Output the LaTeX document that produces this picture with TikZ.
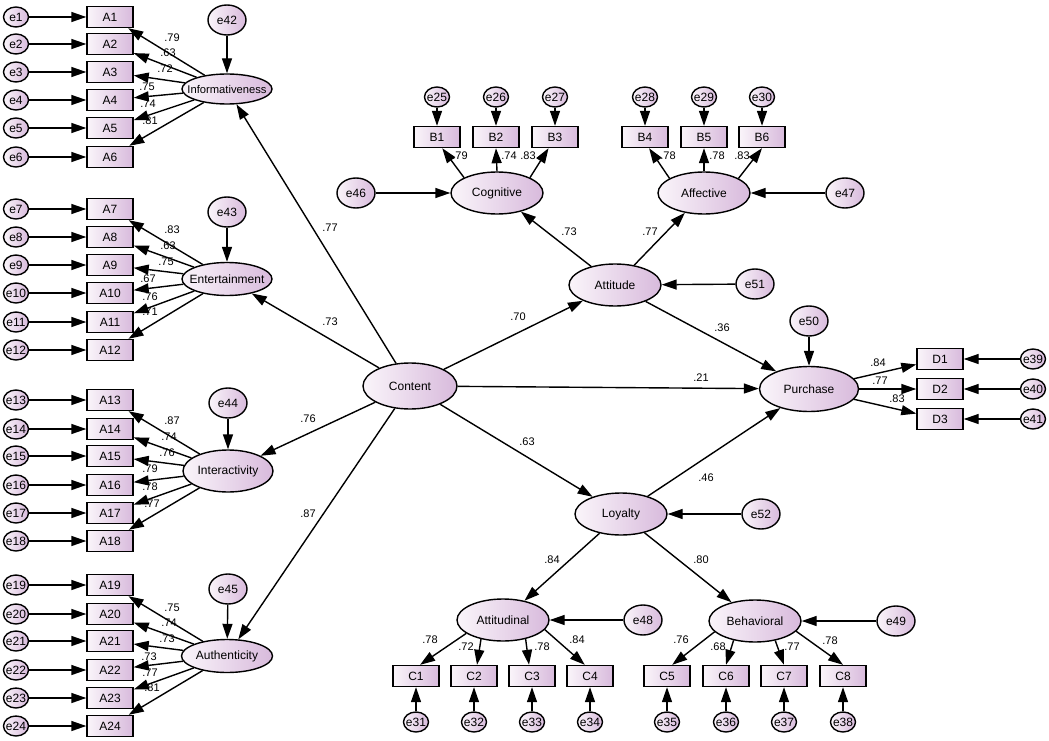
\documentclass[tikz,border=0pt]{standalone}
\usepackage{fontspec}
\setmainfont{Liberation Sans}
\usetikzlibrary{shapes.geometric,arrows.meta}

\definecolor{semlight}{RGB}{250,245,250}
\definecolor{semdark}{RGB}{216,186,220}

\tikzset{
  lat/.style={ellipse, draw, line width=1.4pt, left color=semlight, right color=semdark,
    minimum width=92pt, minimum height=42pt, inner xsep=-12pt, inner ysep=0pt,
    font=\fontsize{12}{14}\selectfont},
  obs/.style={rectangle, draw, line width=1.4pt, left color=semlight, right color=semdark,
    minimum width=46pt, minimum height=21pt, inner sep=0pt, font=\fontsize{12}{14}\selectfont},
  err/.style={ellipse, draw, line width=1.4pt, left color=semlight, right color=semdark,
    minimum width=25pt, minimum height=20pt, inner xsep=-3pt, inner ysep=0pt,
    font=\fontsize{12}{14}\selectfont},
  res/.style={err, minimum width=38pt, minimum height=30pt},
  arr/.style={-{Triangle[length=15pt,width=10pt]}, line width=1.4pt},
  coef/.style={inner sep=0pt, font=\fontsize{11}{13}\selectfont}
}

\begin{document}
\begin{tikzpicture}[x=1pt, y=-1pt]
  \useasboundingbox (0,0) rectangle (1049,741);

  % Latent variables
  \node[lat, minimum width=90pt, minimum height=30pt, font=\fontsize{11.2}{13}\selectfont] (inf) at (227,89) {Informativeness};
  \node[lat, minimum width=90pt, minimum height=33pt] (ent) at (227,279) {Entertainment};
  \node[lat, minimum width=90pt, minimum height=42pt] (int) at (228,471) {Interactivity};
  \node[lat, minimum width=91pt, minimum height=33pt] (aut) at (227,656) {Authenticity};
  \node[lat, minimum width=94pt, minimum height=46pt] (con) at (410,386) {Content};
  \node[lat] (att) at (615,285) {Attitude};
  \node[lat] (cog) at (497,193) {Cognitive};
  \node[lat] (aff) at (704,193) {Affective};
  \node[lat] (loy) at (621,514) {Loyalty};
  \node[lat, minimum width=99pt, minimum height=45pt] (pur) at (809,389) {Purchase};
  \node[lat] (atd) at (503,620) {Attitudinal};
  \node[lat] (beh) at (755,621) {Behavioral};

  % Residuals
  \node[res] (e42) at (227,20) {e42};
  \node[res] (e43) at (227,212) {e43};
  \node[res] (e44) at (228,403) {e44};
  \node[res] (e45) at (228,589) {e45};
  \node[res] (e46) at (356,193) {e46};
  \node[res] (e47) at (845,193) {e47};
  \node[res] (e51) at (755,284) {e51};
  \node[res] (e50) at (809,321) {e50};
  \node[res] (e52) at (761,514) {e52};
  \node[res] (e48) at (643,620) {e48};
  \node[res] (e49) at (896,621) {e49};

  \draw[arr] (e42) -- (inf);
  \draw[arr] (e43) -- (ent);
  \draw[arr] (e44) -- (int);
  \draw[arr] (e45) -- (aut);
  \draw[arr] (e46) -- (cog);
  \draw[arr] (e47) -- (aff);
  \draw[arr] (e51) -- (att);
  \draw[arr] (e50) -- (pur);
  \draw[arr] (e52) -- (loy);
  \draw[arr] (e48) -- (atd);
  \draw[arr] (e49) -- (beh);

  % Structural paths
  \draw[arr] (con) -- (inf);
  \draw[arr] (con) -- (ent);
  \draw[arr] (con) -- (int);
  \draw[arr] (con) -- (aut);
  \draw[arr] (con) -- (att);
  \draw[arr] (con) -- (loy);
  \draw[arr] (con) -- (pur);
  \draw[arr] (att) -- (cog);
  \draw[arr] (att) -- (aff);
  \draw[arr] (att) -- (pur);
  \draw[arr] (loy) -- (pur);
  \draw[arr] (loy) -- (atd);
  \draw[arr] (loy) -- (beh);

  \node[coef] (p1) at (330,228) {.77};
  \node[coef] (p2) at (330,322) {.73};
  \node[coef] (p3) at (308,419) {.76};
  \node[coef] (p4) at (308,514) {.87};
  \node[coef] (p5) at (518,317) {.70};
  \node[coef] (p6) at (527,442) {.63};
  \node[coef] (p7) at (701,378) {.21};
  \node[coef] (p8) at (722,328) {.36};
  \node[coef] (p9) at (706,478) {.46};
  \node[coef] (p10) at (569,232) {.73};
  \node[coef] (p11) at (650,232) {.77};
  \node[coef] (p12) at (552,560) {.84};
  \node[coef] (p13) at (701,560) {.80};

  % Indicators A1-A24
  \foreach \i/\y in {1/17, 2/44, 3/72, 4/100, 5/128, 6/157,
                     7/209, 8/237, 9/265, 10/293, 11/322, 12/350,
                     13/400, 14/429, 15/456, 16/485, 17/513, 18/541,
                     19/585, 20/614, 21/641, 22/670, 23/698, 24/726}{
    \node[err] (e\i) at (16,\y) {e\i};
    \node[obs] (A\i) at (110,\y) {A\i};
    \draw[arr] (e\i) -- (A\i);
  }

  % Loadings A
  \foreach \f/\i/\v/\lx/\ly in {inf/1/.79/172/38, inf/2/.63/168/53, inf/3/.72/165/69,
      inf/4/.75/147/87, inf/5/.74/148/104, inf/6/.81/150/121,
      ent/7/.83/172/230, ent/8/.63/168/246, ent/9/.75/166/262,
      ent/10/.67/148/279, ent/11/.76/150/297, ent/12/.71/150/312,
      int/13/.87/172/421, int/14/.74/169/437, int/15/.76/167/453,
      int/16/.79/150/469, int/17/.78/150/487, int/18/.77/152/504,
      aut/19/.75/172/608, aut/20/.74/169/623, aut/21/.73/167/639,
      aut/22/.73/149/657, aut/23/.77/150/673, aut/24/.81/152/688}{
    \draw[arr] (\f) -- (A\i);
    \node[coef] (w\i) at (\lx,\ly) {\v};
  }

  % Indicators B1-B6
  \foreach \f/\i/\n/\x/\v/\lx/\sa/\ea in {cog/1/25/437/.79/460/155/295, cog/2/26/496/.74/509/90/270,
      cog/3/27/555/.83/528/25/240, aff/4/28/645/.78/668/157/290,
      aff/5/29/704/.78/717/90/270, aff/6/30/762/.83/742/23/270}{
    \node[err] (e\n) at (\x,97) {e\n};
    \node[obs] (B\i) at (\x,137) {B\i};
    \draw[arr] (e\n) -- (B\i);
    \draw[arr] (\f.\sa) -- (B\i.\ea);
    \node[coef] (wB\i) at (\lx,156) {\v};
  }

  % Indicators C1-C8
  \foreach \f/\i/\n/\x/\v/\lx/\ly/\sa/\ea in {atd/1/31/416/.78/430/640/200/70, atd/2/32/474/.72/466/647/221/75,
      atd/3/33/532/.78/542/647/320/105, atd/4/34/590/.84/577/640/347/115,
      beh/5/35/667/.76/681/640/195/65, beh/6/36/726/.68/718/647/222/90,
      beh/7/37/784/.77/792/647/316/90, beh/8/38/843/.78/830/641/346/90}{
    \node[obs] (C\i) at (\x,676) {C\i};
    \node[err] (e\n) at (\x,722) {e\n};
    \draw[arr] (e\n) -- (C\i);
    \draw[arr] (\f.\sa) -- (C\i.\ea);
    \node[coef] (wC\i) at (\lx,\ly) {\v};
  }

  % Indicators D1-D3
  \foreach \i/\n/\y/\v/\lx/\ly in {1/39/359/.84/878/363, 2/40/389/.77/880/381, 3/41/419/.83/897/399}{
    \node[obs] (D\i) at (940,\y) {D\i};
    \node[err] (e\n) at (1033,\y) {e\n};
    \draw[arr] (e\n) -- (D\i);
    \draw[arr] (pur) -- (D\i);
    \node[coef] (wD\i) at (\lx,\ly) {\v};
  }
\end{tikzpicture}
\end{document}
